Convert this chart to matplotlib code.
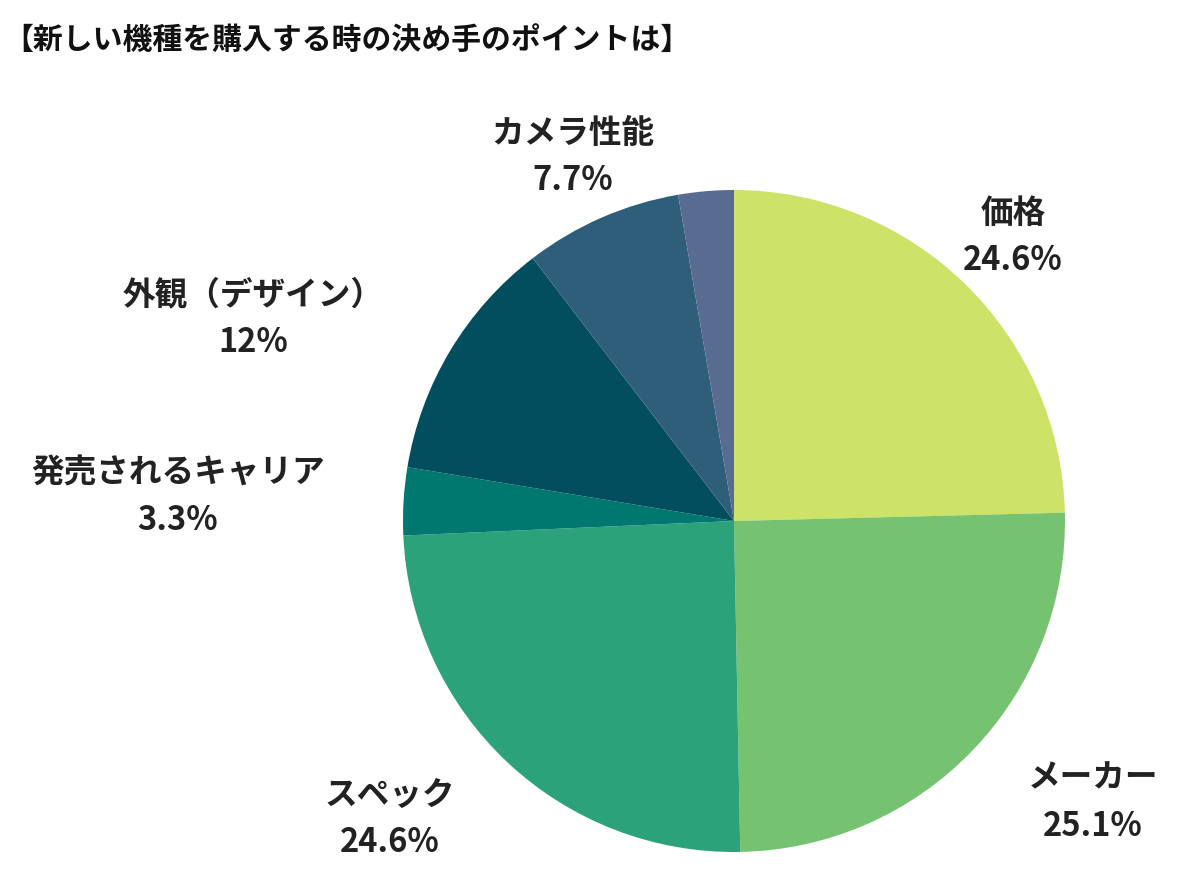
import matplotlib.pyplot as plt

plt.rcParams['font.family'] = ['Noto Sans CJK JP', 'DejaVu Sans']

# data
labels = ['価格', 'メーカー', 'スペック', '発売されるキャリア', '外観（デザイン）', 'カメラ性能', '']
values = [24.6, 25.1, 24.6, 3.3, 12.0, 7.7, 2.7]
value_text = ['24.6%', '25.1%', '24.6%', '3.3%', '12%', '7.7%', '']
colors = ['#cde368', '#75c370', '#2ca27a', '#00776f', '#034e5e', '#2f5e7b', '#586b90']

# label centres in pixel coords (x, y of first line)
label_pos = [(1013, 213), (1093, 778), (390, 795), (178, 473), (253, 295), (573, 133), None]

fig = plt.figure(figsize=(12, 8.94), dpi=100)
ax = fig.add_axes([0, 0, 1, 1])

ax.pie(values, colors=colors, startangle=90, counterclock=False,
       center=(734, 894 - 521), radius=331,
       wedgeprops={'linewidth': 0})

# pie resets the limits, so set them afterwards
ax.set_xlim(0, 1200)
ax.set_ylim(0, 894)
ax.set_aspect('equal')
ax.axis('off')

for lab, val, pos in zip(labels, value_text, label_pos):
    if pos is None:
        continue
    x, y = pos
    ax.text(x, 894 - y, lab, ha='center', va='center', fontsize=23.5,
            fontweight='bold', color='#222222')
    ax.text(x, 894 - y - 48, val, ha='center', va='center', fontsize=23.5,
            fontweight='bold', color='#222222')

fig.text(3 / 1200, 1 - 40 / 894, '【新しい機種を購入する時の決め手のポイントは】',
         ha='left', va='center', fontsize=21.5, fontweight='bold', color='#111111')

plt.savefig('out.png', dpi=100)
